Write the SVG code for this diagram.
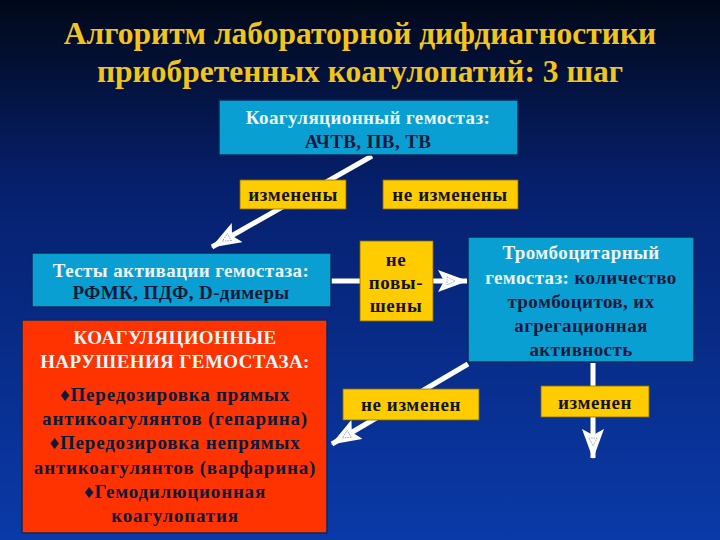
<svg xmlns="http://www.w3.org/2000/svg" width="720" height="540" viewBox="0 0 720 540">
<defs>
<linearGradient id="bg" x1="0" y1="0" x2="0" y2="1">
<stop offset="0" stop-color="#010818"/>
<stop offset="0.35" stop-color="#06206e"/>
<stop offset="1" stop-color="#0a3aa8"/>
</linearGradient>
<marker id="ah" viewBox="0 0 30 22" refX="29" refY="11" markerWidth="30" markerHeight="22" markerUnits="userSpaceOnUse" orient="auto">
<path d="M0,0 L30,11 L0,22 L6,11 Z" fill="#ffffff"/>
<path d="M9,7 L17,11 L9,15 Z" fill="none" stroke="#8899aa" stroke-width="0.8" stroke-dasharray="1.5,1"/>
</marker>
<style>
.title{font-family:"Liberation Serif",serif;font-weight:bold;font-size:31.5px;fill:#f2c51c;text-anchor:middle}
.box{fill:#0a9fd2;stroke:#0b2a5a;stroke-width:1.5}
.lab{fill:#ffcc00;stroke:#8a6a00;stroke-width:0.8}
.red{fill:#ff3300;stroke:#0b2a5a;stroke-width:1.5}
.t{font-family:"Liberation Serif",serif;font-weight:bold;font-size:19px;letter-spacing:0.4px;text-anchor:middle}
.r{letter-spacing:0.8px}
.w{fill:#eef6ff}
.d{fill:#0b1a3d}
.lt{font-family:"Liberation Serif",serif;font-weight:bold;font-size:19px;letter-spacing:0.6px;text-anchor:middle;fill:#141414}
.con{stroke:#ffffff;stroke-width:5;fill:none;marker-end:url(#ah)}
</style>
</defs>
<rect x="0" y="0" width="720" height="540" fill="url(#bg)"/>
<g id="title">
<text class="title" x="360" y="44">Алгоритм лабораторной дифдиагностики</text>
<text class="title" x="360" y="82">приобретенных коагулопатий: 3 шаг</text>
</g>
<g id="connectors">
<line class="con" x1="372" y1="156" x2="212" y2="247"/>
<line class="con" x1="331" y1="281" x2="467" y2="281"/>
<line class="con" x1="468" y1="364" x2="332" y2="444"/>
<line class="con" x1="593" y1="363" x2="593" y2="458"/>
</g>
<g id="node-coag">
<rect class="box" x="219" y="100" width="299" height="55"/>
<text class="t w" x="368" y="124">Коагуляционный гемостаз:</text>
<text class="t d" x="368" y="148">АЧТВ, ПВ, ТВ</text>
</g>
<g id="label-changed">
<rect class="lab" x="240" y="180" width="106" height="29"/>
<text class="lt" x="293" y="201">изменены</text>
</g>
<g id="label-not-changed">
<rect class="lab" x="383" y="180" width="135" height="29"/>
<text class="lt" x="450" y="201">не изменены</text>
</g>
<g id="node-tests">
<rect class="box" x="32" y="253" width="299" height="54"/>
<text class="t w" x="181" y="277">Тесты активации гемостаза:</text>
<text class="t d" x="181" y="299">РФМК, ПДФ, D-димеры</text>
</g>
<g id="label-not-raised">
<rect class="lab" x="360" y="241" width="73" height="80"/>
<text class="lt" x="396" y="266">не</text>
<text class="lt" x="396" y="289">повы-</text>
<text class="lt" x="396" y="312">шены</text>
</g>
<g id="node-platelet">
<rect class="box" x="468" y="237" width="226" height="125"/>
<text class="t w" x="581" y="259">Тромбоцитарный</text>
<text class="t" x="581" y="284"><tspan class="w">гемостаз: </tspan><tspan class="d">количество</tspan></text>
<text class="t d" x="581" y="308">тромбоцитов, их</text>
<text class="t d" x="581" y="332">агрегационная</text>
<text class="t d" x="581" y="356">активность</text>
</g>
<g id="node-disorders">
<rect class="red" x="22" y="320" width="305" height="213"/>
<text class="t w" x="175" y="344">КОАГУЛЯЦИОННЫЕ</text>
<text class="t w" x="175" y="368">НАРУШЕНИЯ ГЕМОСТАЗА:</text>
<text class="t r d" x="175" y="401">♦Передозировка прямых</text>
<text class="t r d" x="175" y="425">антикоагулянтов (гепарина)</text>
<text class="t r d" x="175" y="449">♦Передозировка непрямых</text>
<text class="t r d" x="175" y="474">антикоагулянтов (варфарина)</text>
<text class="t r d" x="175" y="498">♦Гемодилюционная</text>
<text class="t r d" x="175" y="522">коагулопатия</text>
</g>
<g id="label-not-changed-2">
<rect class="lab" x="343" y="389" width="136" height="31"/>
<text class="lt" x="411" y="411">не изменен</text>
</g>
<g id="label-changed-2">
<rect class="lab" x="541" y="386" width="108" height="31"/>
<text class="lt" x="595" y="409">изменен</text>
</g>
</svg>
